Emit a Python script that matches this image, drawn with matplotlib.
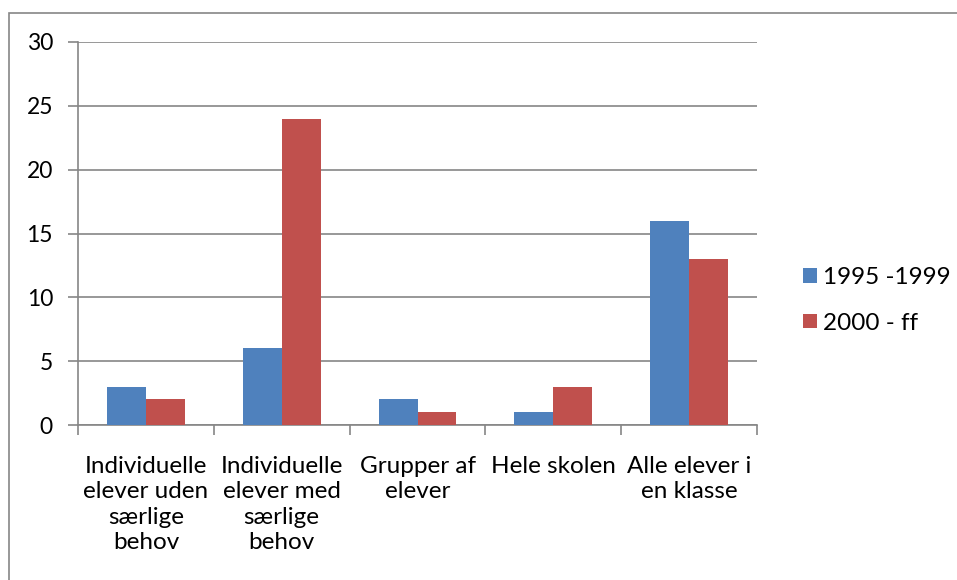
import numpy as np
import matplotlib.pyplot as plt
from matplotlib.patches import Rectangle

# Data
categories = ['Individuelle\nelever uden\nsærlige\nbehov',
              'Individuelle\nelever med\nsærlige\nbehov',
              'Grupper af\nelever',
              'Hele skolen',
              'Alle elever i\nen klasse']
series_names = ['1995 -1999', '2000 - ff']
values_1995 = [3, 6, 2, 1, 16]
values_2000 = [2, 24, 1, 3, 13]
colors = ['#4F81BD', '#C0504D']

plt.rcParams['font.family'] = ['Lato', 'DejaVu Sans']
fs = 17.5

fig = plt.figure(figsize=(9.57, 5.80), dpi=100)
ax = fig.add_axes([78 / 957, 1 - 425 / 580, (757 - 78) / 957, (425 - 42) / 580])

# outer border of the chart
fig.patches.append(Rectangle((9 / 957, -0.01), 1.0, 1 - 13 / 580 + 0.01,
                             transform=fig.transFigure, fill=False,
                             edgecolor='#868686', linewidth=1.2))

x = np.arange(len(categories))
w = 0.287
ax.bar(x - w / 2, values_1995, w, color=colors[0], label=series_names[0], zorder=3)
ax.bar(x + w / 2, values_2000, w, color=colors[1], label=series_names[1], zorder=3)

ax.set_xlim(-0.5, len(categories) - 0.5)
ax.set_ylim(0, 30)
ax.set_yticks(range(0, 31, 5))
ax.yaxis.grid(True, color='#868686', linewidth=1.2, zorder=0)

for s in ['top', 'right']:
    ax.spines[s].set_visible(False)
for s in ['left', 'bottom']:
    ax.spines[s].set_color('#868686')
    ax.spines[s].set_linewidth(1.2)

# category labels between boundary ticks
ax.set_xticks(np.arange(-0.5, len(categories) + 0.5, 1))
ax.set_xticklabels([])
ax.set_xticks(x, minor=True)
ax.set_xticklabels(categories, minor=True, fontsize=fs, linespacing=1.27)
ax.tick_params(axis='x', which='minor', length=0, pad=22)
ax.tick_params(axis='x', which='major', length=7, color='#868686', width=1.2)
ax.tick_params(axis='y', length=7, color='#868686', width=1.2, labelsize=16.5, pad=11)

ax.legend(loc='center left', bbox_to_anchor=(1.0, 0.325), frameon=False,
          fontsize=fs, handlelength=0.55, handleheight=0.55, handletextpad=0.25,
          labelspacing=1.0, borderaxespad=1.5)

plt.savefig('out.png', dpi=100)
